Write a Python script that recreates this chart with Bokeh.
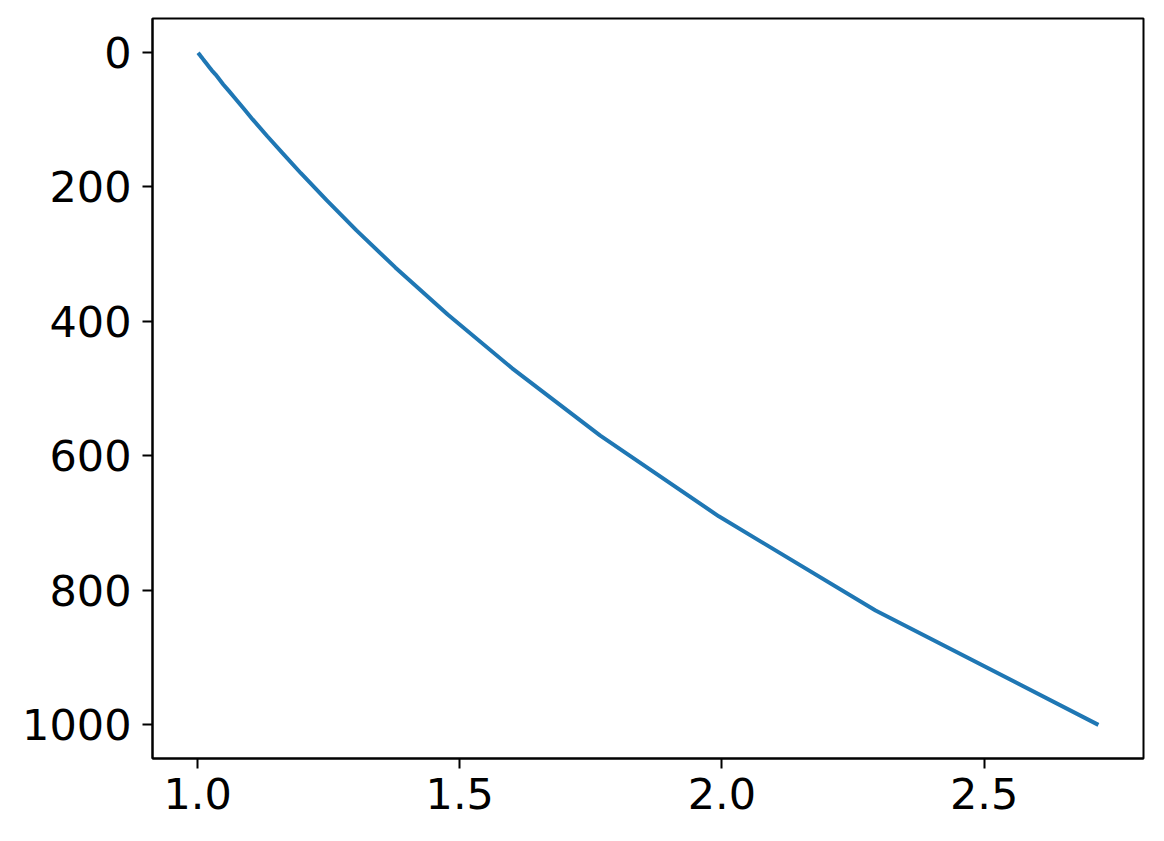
from bokeh.plotting import figure
from bokeh.models import Range1d, FixedTicker
from bokeh.embed import file_html
from bokeh.resources import INLINE

# data (x vs depth-like y, y axis inverted)
y_vals = [1, 2, 3, 4, 5, 6, 8, 10, 12, 15, 18, 22, 27, 33, 40, 48, 58, 70, 85,
          100, 125, 150, 180, 220, 265, 320, 390, 470, 570, 690, 830, 1000]
x_vals = [1.001, 1.002, 1.003, 1.004, 1.005, 1.006, 1.008, 1.010, 1.012, 1.015,
          1.018, 1.022, 1.027, 1.034, 1.041, 1.049, 1.060, 1.073, 1.089, 1.105,
          1.133, 1.162, 1.197, 1.246, 1.303, 1.377, 1.477, 1.600, 1.768, 1.994,
          2.293, 2.718]
x_ticks = [1.0, 1.5, 2.0, 2.5]
y_ticks = [0, 200, 400, 600, 800, 1000]

p = figure(width=1148, height=825, output_backend="svg", toolbar_location=None,
           x_range=Range1d(0.914, 2.804), y_range=Range1d(1050, -50),
           min_border_left=152, min_border_right=5, min_border_top=18,
           min_border_bottom=67)
p.line(x_vals, y_vals, line_color="#1f77b4", line_width=4)

p.grid.visible = False
p.outline_line_color = "black"
p.outline_line_width = 2
p.background_fill_color = "white"
p.border_fill_color = "white"

p.xaxis.ticker = FixedTicker(ticks=x_ticks)
p.yaxis.ticker = FixedTicker(ticks=y_ticks)
p.xaxis.major_label_overrides = {1.0: "1.0", 1.5: "1.5", 2.0: "2.0", 2.5: "2.5"}
for ax in (p.xaxis, p.yaxis):
    ax.axis_line_width = 2
    ax.axis_line_color = "black"
    ax.major_tick_line_width = 2
    ax.major_tick_line_color = "black"
    ax.major_tick_in = 0
    ax.major_tick_out = 10
    ax.minor_tick_line_color = None
    ax.major_label_text_font = "DejaVu Sans"
    ax.major_label_text_font_size = "43px"
    ax.major_label_text_color = "black"
p.xaxis.major_label_standoff = 9
p.yaxis.major_label_standoff = 11

open("out.html", "w").write(file_html(p, INLINE))
